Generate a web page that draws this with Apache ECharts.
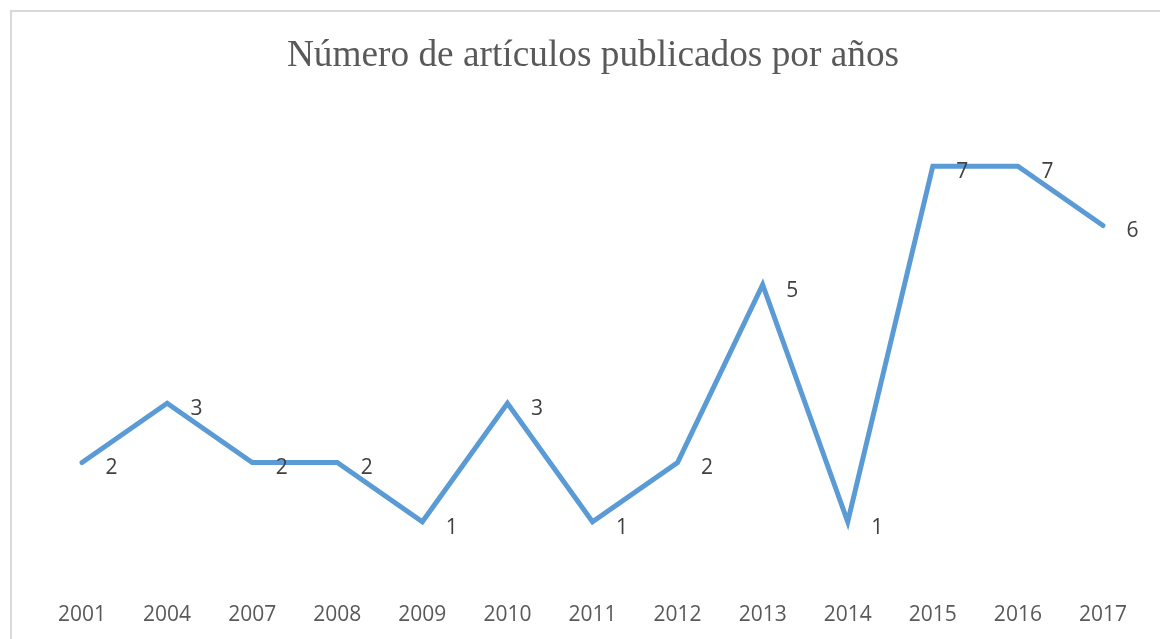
<!DOCTYPE html>
<html>
<head>
<meta charset="utf-8">
<script src="https://cdn.jsdelivr.net/npm/echarts@6/dist/echarts.min.js"></script>
<style>
  html, body { margin: 0; padding: 0; background: #fff; }
  #chart { width: 1160px; height: 639px; }
</style>
</head>
<body>
<div id="chart"></div>
<script>
// years on the x axis
const years = ['2001', '2004', '2007', '2008', '2009', '2010', '2011', '2012', '2013', '2014', '2015', '2016', '2017']
// articles per year
const articles = [2, 3, 2, 2, 1, 3, 1, 2, 5, 1, 7, 7, 6]

const chart = echarts.init(document.getElementById('chart'))

const option = {
  animation: false,
  backgroundColor: '#ffffff',
  title: {
    text: 'Número de artículos publicados por años',
    left: 588,
    top: 33,
    textAlign: 'center',
    textStyle: {
      fontFamily: 'Liberation Serif',
      fontWeight: 'normal',
      fontSize: 37.3,
      color: '#595959'
    }
  },
  // outer frame of the chart area
  graphic: [{
    type: 'rect',
    shape: { x: 11, y: 11, width: 1160, height: 640 },
    style: { fill: 'none', stroke: '#d9d9d9', lineWidth: 2 },
    silent: true
  }],
  grid: {
    left: 39.5,
    right: 14.5,
    top: 107,
    bottom: 58
  },
  xAxis: {
    type: 'category',
    data: years,
    boundaryGap: true,
    axisLine: { show: false },
    axisTick: { show: false },
    axisLabel: {
      margin: 24,
      fontFamily: 'Open Sans',
      fontSize: 21,
      color: '#595959'
    }
  },
  yAxis: {
    type: 'value',
    min: 0,
    max: 8,
    interval: 1,
    show: false,
    splitLine: { show: false }
  },
  series: [{
    type: 'line',
    data: articles,
    showSymbol: true,
    symbol: 'circle',
    symbolSize: 1,
    itemStyle: { color: 'rgba(0,0,0,0)' },
    lineStyle: {
      color: '#5b9bd5',
      width: 5,
      cap: 'round',
      join: 'miter'
    },
    label: {
      show: true,
      position: 'right',
      distance: 22,
      offset: [1, 6],
      fontFamily: 'Open Sans',
      fontSize: 21,
      color: '#404040'
    }
  }]
}

chart.setOption(option)
</script>
</body>
</html>
